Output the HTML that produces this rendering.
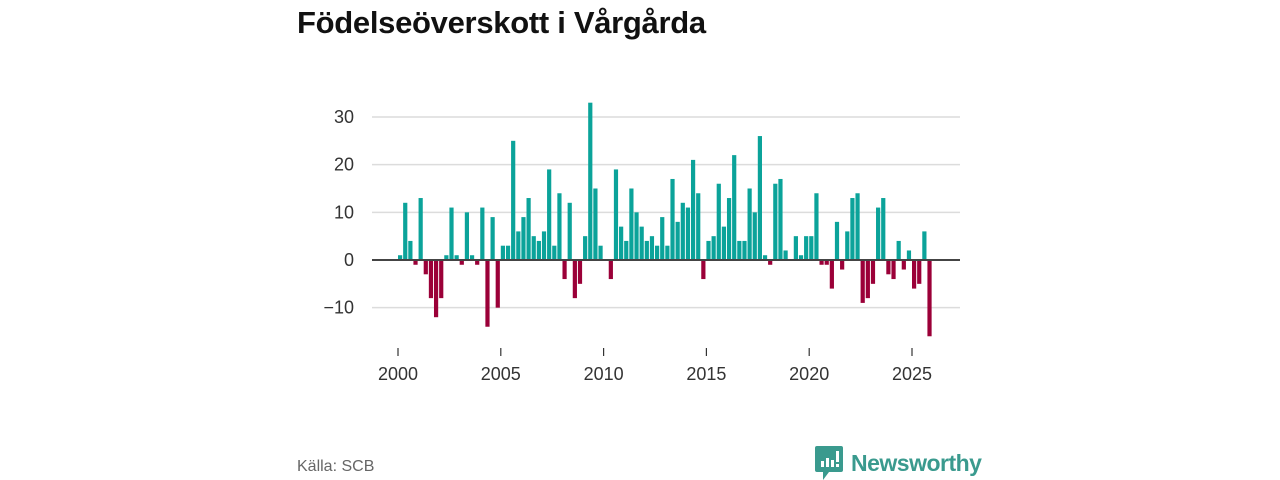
<!DOCTYPE html>
<html><head><meta charset="utf-8"><style>
body{margin:0;width:1280px;height:480px;background:#fff;font-family:"Liberation Sans",sans-serif;overflow:hidden;position:relative}
#title{position:absolute;left:297px;top:5px;font-size:31px;font-weight:bold;color:#111;letter-spacing:-0.3px}
#src{position:absolute;left:297px;top:458px;font-size:16px;color:#666}
#logo{position:absolute;left:815px;top:446px;display:flex;align-items:center}
#logo span{font-size:23px;color:#3a9a8e;font-weight:bold;margin-left:8px;letter-spacing:-0.5px}
</style></head><body>
<div id="title">Födelseöverskott i Vårgårda</div>
<svg id="chart" width="1280" height="480" style="position:absolute;left:0;top:0"></svg>
<div id="src">Källa: SCB</div>
<div id="logo">
<svg width="28" height="34" viewBox="0 0 28 34"><path d="M2 0H26A2 2 0 0 1 28 2V24A2 2 0 0 1 26 26H14L8 34V26H2A2 2 0 0 1 0 24V2A2 2 0 0 1 2 0Z" fill="#3a9a8e"/><rect x="6" y="15" width="3" height="6" fill="#fff"/><rect x="11" y="12" width="3" height="9" fill="#fff"/><rect x="16" y="14" width="3" height="7" fill="#fff"/><rect x="21" y="5" width="3" height="11" fill="#fff"/><rect x="21" y="18" width="3" height="3" fill="#fff"/></svg>
<span>Newsworthy</span></div>
<script>
const startYear = 2000;
const values = [1,12,4,-1,13,-3,-8,-12,-8,1,11,1,-1,10,1,-1,11,-14,9,-10,3,3,25,6,9,13,5,4,6,19,3,14,-4,12,-8,-5,5,33,15,3,0,-4,19,7,4,15,10,7,4,5,3,9,3,17,8,12,11,21,14,-4,4,5,16,7,13,22,4,4,15,10,26,1,-1,16,17,2,0,5,1,5,5,14,-1,-1,-6,8,-2,6,13,14,-9,-8,-5,11,13,-3,-4,4,-2,2,-6,-5,6,-16];
const yTicks = [-10,0,10,20,30];
const xTicks = [2000,2005,2010,2015,2020,2025];
const NS = "http://www.w3.org/2000/svg";
const svg = document.getElementById('chart');
const x0 = 398, pxPerYear = 20.56, y0 = 260, pxPerUnit = 4.767;
const xs = t => x0 + (t - startYear) * pxPerYear;
const ys = v => y0 - v * pxPerUnit;
function mk(tag, attrs){const e=document.createElementNS(NS,tag);for(const k in attrs)e.setAttribute(k,attrs[k]);svg.appendChild(e);return e;}
yTicks.forEach(v=>{
  if(v!==0){const g=mk('line',{x1:372,x2:960,y1:ys(v),y2:ys(v),stroke:'#dcdcdc','stroke-width':1.5});
  
  }
  const t=mk('text',{x:354,y:ys(v)+6,'text-anchor':'end','font-size':18,fill:'#333','font-family':'Liberation Sans, sans-serif'});
  t.textContent = v<0 ? '\u2212'+Math.abs(v) : v;
  
  
});
values.forEach((v,i)=>{
  const t = startYear + i/4;
  const cx = xs(t) + 2;
  const top = v>=0 ? ys(v) : y0;
  const h = Math.abs(ys(v)-y0);
  const r=mk('rect',{x:cx-2,y:top,width:4.2,height:h,fill:v>=0?'#0ba39a':'#9b0038'});
  
  
});
const zl=mk('line',{x1:372,x2:960,y1:y0,y2:y0,stroke:'#444','stroke-width':2});


xTicks.forEach(yr=>{
  const l=mk('line',{x1:xs(yr),x2:xs(yr),y1:348,y2:356,stroke:'#333','stroke-width':1.2});
  
  
  const t=mk('text',{x:xs(yr),y:380,'text-anchor':'middle','font-size':18,fill:'#333','font-family':'Liberation Sans, sans-serif'});
  t.textContent=yr;
  
  
});
</script>
</body></html>
